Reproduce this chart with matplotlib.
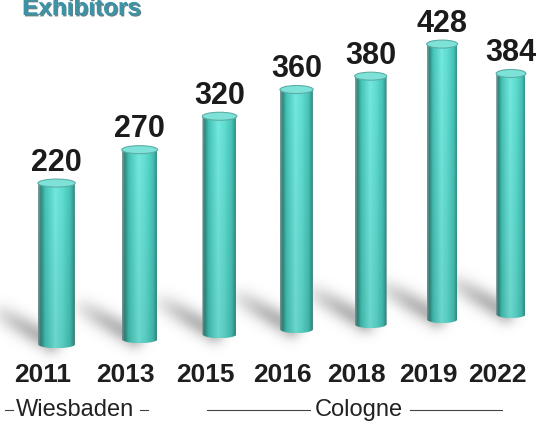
import numpy as np
import matplotlib

matplotlib.use("Agg")
import matplotlib.pyplot as plt
import matplotlib.patheffects as pe
from matplotlib.colors import LinearSegmentedColormap
from matplotlib.lines import Line2D
from matplotlib.patches import Ellipse, Polygon

# data
years = ["2011", "2013", "2015", "2016", "2018", "2019", "2022"]
exhibitors = [220, 270, 320, 360, 380, 428, 384]
venues = ["Wiesbaden", "Cologne"]

W, H = 542, 423
PERSP = 0.0198  # x-axis perspective compression

plt.rcParams["font.family"] = ["Liberation Sans", "DejaVu Sans"]

fig = plt.figure(figsize=(W / 100, H / 100), dpi=100, facecolor="white")
ax = fig.add_axes([0, 0, 1, 1])
ax.set_zorder(1)
ax.set_xscale("function", functions=(lambda v: v / (1 + PERSP * v),
                                     lambda v: v / (1 - PERSP * v)))
ax.axis("off")

x = np.arange(len(years))
vals = np.array(exhibitors, dtype=float)
floor = -21 + 7.5 * x  # tilted floor the cylinders stand on

bars = ax.bar(x, vals - floor, bottom=floor, width=0.44,
              color="none", edgecolor="none")

# cylinder shading across the width
cyl = LinearSegmentedColormap.from_list("cyl", [
    (0.00, "#7a9896"),
    (0.06, "#2f8a80"),
    (0.18, "#45c4b6"),
    (0.45, "#74e8de"),
    (0.65, "#5fdcd0"),
    (0.85, "#46c2b6"),
    (0.95, "#35968c"),
    (1.00, "#7a9896"),
])
prof = cyl(np.linspace(0, 1, 128))[:, :3]
shade = np.linspace(1.0, 0.92, 64)[:, None, None]
tex = np.clip(prof[None, :, :] * shade, 0, 1)

eh = 6.0  # half height of the end ellipses, data units
for rect in bars:
    x0, w = rect.get_x(), rect.get_width()
    y0, y1 = rect.get_y(), rect.get_y() + rect.get_height()
    th = np.linspace(np.pi, 2 * np.pi, 40)
    arc = np.column_stack([x0 + w / 2 + w / 2 * np.cos(th), y0 + eh * np.sin(th)])
    outline = np.vstack([[x0, y1], arc, [x0 + w, y1]])
    clip = Polygon(outline, closed=True, facecolor="none", edgecolor="none")
    ax.add_patch(clip)
    im = ax.imshow(tex, extent=(x0, x0 + w, y0 - eh, y1), aspect="auto",
                   interpolation="bilinear", zorder=3)
    im.set_clip_path(clip)
    ax.add_patch(Ellipse((x0 + w / 2, y1), w, 2 * eh, facecolor="#7fe2d8",
                         edgecolor="#5aaea6", lw=0.8, zorder=4))

ax.set_xlim(-0.66, 6.46)
ax.set_ylim(-139, 494)

# soft shadows on the floor, pointing up-left from each base
base_px = ax.transData.transform(np.column_stack([x, floor]))
yy, xx = np.mgrid[0:H, 0:W] + 0.5
keep = np.ones((H, W))
d = np.array([-62.0, 36.0])
for px, py in base_px:
    ax_, ay_ = px - 6, py + 2
    t = ((xx - ax_) * d[0] + (yy - ay_) * d[1]) / (d @ d)
    t = np.clip(t, 0, 1)
    dist = np.hypot(xx - (ax_ + t * d[0]), yy - (ay_ + t * d[1]))
    inten = np.exp(-(dist / 11.0) ** 2) * (1 - t ** 2)
    keep *= 1 - 0.48 * inten
rgba = np.zeros((H, W, 4))
rgba[..., :3] = 0.38
rgba[..., 3] = 1 - keep
fig.figimage(rgba, xo=0, yo=0, origin="lower", zorder=0)

# value labels
for i, v in enumerate(exhibitors):
    ax.annotate(str(v), (i, v), xytext=(0, 9), textcoords="offset points",
                ha="center", va="baseline", fontsize=22, fontweight="bold",
                color="#1b1b1b", zorder=5)

# year labels
for i, yr in enumerate(years):
    ax.annotate(yr, (i, 41), xycoords=("data", "figure pixels"),
                xytext=(-10, 0), textcoords="offset points",
                ha="center", va="baseline", fontsize=19, fontweight="bold",
                color="#1e1e1e")

# venue captions with rules
venue_layout = {
    "Wiesbaden": dict(cx=75, ends=(5, 148), gaps=(13, 140)),
    "Cologne": dict(cx=359, ends=(207, 502), gaps=(310, 410)),
}
for name in venues:
    lay = venue_layout[name]
    fig.text(lay["cx"] / W, 7 / H, name, ha="center", va="baseline",
             fontsize=17, color="#222222")
    for a, b in [(lay["ends"][0], lay["gaps"][0]), (lay["gaps"][1], lay["ends"][1])]:
        fig.add_artist(Line2D([a / W, b / W], [13 / H, 13 / H], color="#444444",
                              lw=0.8, transform=fig.transFigure))

# title (cropped at the top edge, as in the source)
fig.text(22 / W, 1 - 15 / H, "Exhibitors", ha="left", va="baseline",
         fontsize=17.5, fontweight="bold", color="#3b93a6",
         path_effects=[pe.SimplePatchShadow(offset=(1, -1), shadow_rgbFace="#1e4f5a",
                                            alpha=0.7), pe.Normal()])

fig.savefig("out.png", dpi=100, facecolor="white")
